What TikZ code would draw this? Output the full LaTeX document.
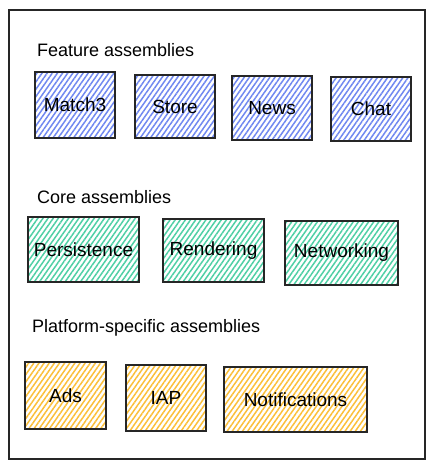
\documentclass[tikz,border=0pt]{standalone}
\usepackage{fontspec}
\setmainfont{Liberation Sans}
\usetikzlibrary{patterns.meta}
\definecolor{featblue}{HTML}{7088F0}
\definecolor{coregreen}{HTML}{4FCFA5}
\definecolor{platyellow}{HTML}{FBBF3A}
\begin{document}
\begin{tikzpicture}[x=1pt,y=-1pt,
    box/.style={draw=black!85, line width=1.1pt, inner sep=0pt, font=\fontsize{19}{21}\selectfont},
    hatch/.style={pattern={Lines[angle=55,distance=4.2pt,line width=1.5pt]}, pattern color=#1},
    feature/.style={box, hatch=featblue},
    core/.style={box, hatch=coregreen},
    platform/.style={box, hatch=platyellow},
    grouplabel/.style={anchor=west, inner sep=0pt, font=\fontsize{18}{20}\selectfont}]
    \useasboundingbox (0,0) rectangle (436,470);
    \draw [black!85, line width=1.1pt] (9,10) rectangle (425,459);
    % feature assemblies
    \node [grouplabel] (featlabel) at (37,50) {Feature assemblies};
    \node [feature, minimum width=80pt, minimum height=66pt] (match) at (75,105) {Match3};
    \node [feature, minimum width=80pt, minimum height=63pt] (store) at (175,106.5) {Store};
    \node [feature, minimum width=80pt, minimum height=64pt] (news) at (272,108) {News};
    \node [feature, minimum width=80pt, minimum height=64pt] (chat) at (371,109) {Chat};
    % core assemblies
    \node [grouplabel] (corelabel) at (37,197) {Core assemblies};
    \node [core, minimum width=111pt, minimum height=65pt] (persist) at (83.5,249.5) {Persistence};
    \node [core, minimum width=101pt, minimum height=63pt] (render) at (213.5,250.5) {Rendering};
    \node [core, minimum width=113pt, minimum height=64pt] (network) at (341.5,253) {Networking};
    % platform-specific assemblies
    \node [grouplabel] (platlabel) at (32,328) {Platform-specific assemblies};
    \node [platform, minimum width=81pt, minimum height=67pt] (ads) at (65.5,395.5) {Ads};
    \node [platform, minimum width=80pt, minimum height=66pt] (iap) at (166,398) {IAP};
    \node [platform, minimum width=143pt, minimum height=65pt] (notify) at (295.5,399.5) {Notifications};
\end{tikzpicture}
\end{document}
